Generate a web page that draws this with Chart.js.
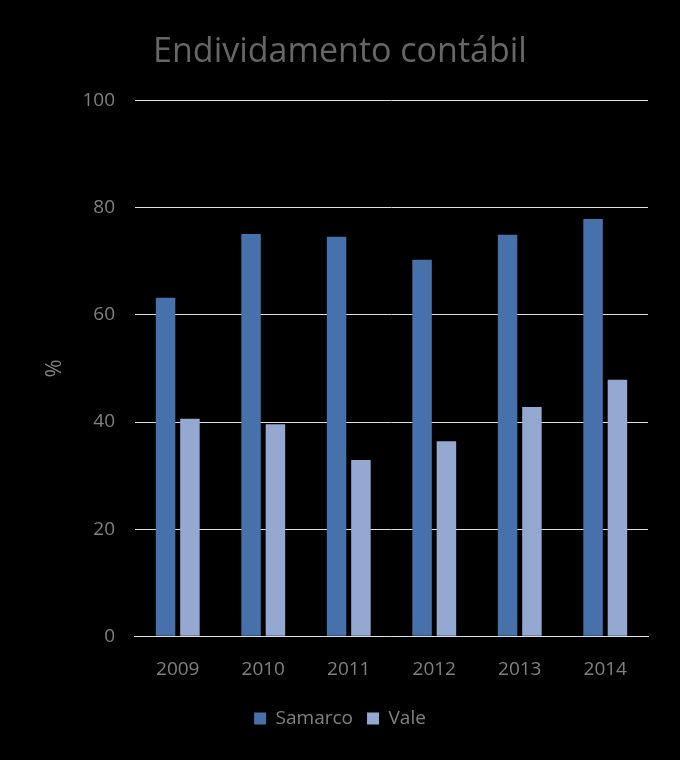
<!DOCTYPE html>
<html>
<head>
<meta charset="utf-8">
<script src="https://cdn.jsdelivr.net/npm/chart.js@4/dist/chart.umd.min.js"></script>
<style>
  html, body { margin: 0; padding: 0; background: #000; }
  #wrap { width: 680px; height: 760px; }
</style>
</head>
<body>
<div id="wrap"><canvas id="chart"></canvas></div>
<script>
const years = ['2009', '2010', '2011', '2012', '2013', '2014'];
const samarco = [63.2, 75.1, 74.6, 70.3, 75.0, 77.9];
const vale = [40.6, 39.6, 32.9, 36.4, 42.8, 47.9];
const yTicks = [0, 20, 40, 60, 80, 100];

const textGray = '#808080';
const fontFamily = "'Open Sans', 'DejaVu Sans', sans-serif";

new Chart(document.getElementById('chart'), {
    type: 'bar',
    data: {
        labels: years,
        datasets: [
            { label: 'Samarco', data: samarco, backgroundColor: '#4671aa' },
            { label: 'Vale', data: vale, backgroundColor: '#95a8d2' }
        ]
    },
    options: {
        responsive: true,
        maintainAspectRatio: false,
        animation: false,
        datasets: { bar: { categoryPercentage: 0.57, barPercentage: 0.8 } },
        layout: { padding: { left: 32, right: 32, top: 9, bottom: 22 } },
        plugins: {
            title: {
                display: true,
                text: 'Endividamento contábil',
                color: '#666666',
                font: { family: fontFamily, size: 34, weight: 'normal' },
                padding: { top: 23, bottom: 28 }
            },
            legend: {
                position: 'bottom',
                labels: {
                    color: textGray,
                    font: { family: fontFamily, size: 19 },
                    boxWidth: 12, boxHeight: 12,
                    padding: 14
                }
            },
            tooltip: { enabled: false }
        },
        scales: {
            x: {
                grid: { display: false },
                border: { color: '#e0e0e0', width: 1 },
                ticks: { color: textGray, font: { family: fontFamily, size: 19 }, padding: 14 }
            },
            y: {
                min: 0, max: 100,
                afterBuildTicks: axis => { axis.ticks = yTicks.map(v => ({ value: v })); },
                grid: { color: '#e0e0e0', lineWidth: 1, drawTicks: true, tickLength: 8, tickColor: '#000' },
                border: { display: false },
                ticks: { color: textGray, font: { family: fontFamily, size: 19 }, padding: 12 },
                title: {
                    display: true,
                    text: '%',
                    color: textGray,
                    font: { family: fontFamily, size: 22 },
                    padding: { top: 10, bottom: 2 }
                }
            }
        }
    }
});
</script>
</body>
</html>
